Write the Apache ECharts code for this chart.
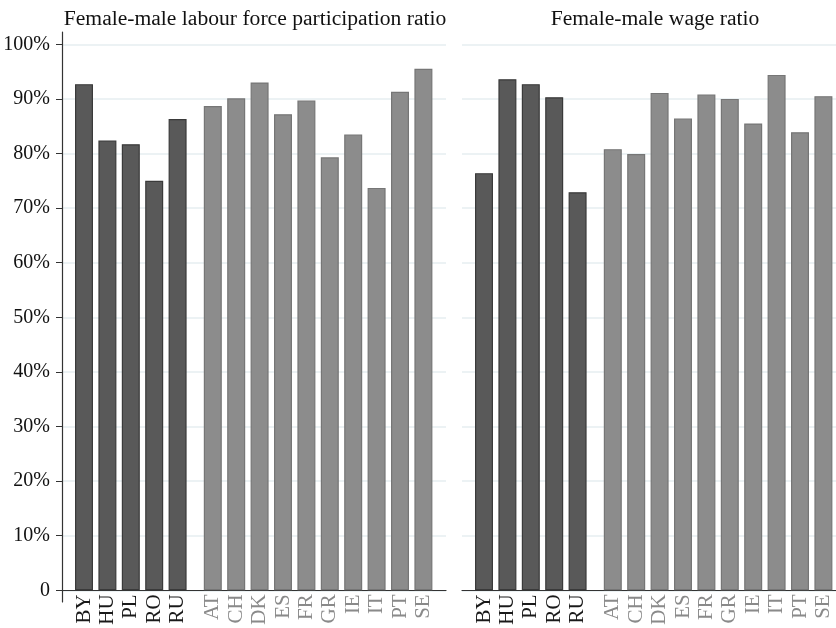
<!DOCTYPE html>
<html>
<head>
<meta charset="utf-8">
<script src="https://cdn.jsdelivr.net/npm/echarts@6/dist/echarts.min.js"></script>
<style>html,body{margin:0;padding:0;background:#fff}#c{width:836px;height:628px}</style>
</head>
<body>
<div id="c"></div>
<script>
var eastCats = ['BY', 'HU', 'PL', 'RO', 'RU'];
var westCats = ['AT', 'CH', 'DK', 'ES', 'FR', 'GR', 'IE', 'IT', 'PT', 'SE'];
var lfpEast = [0.927, 0.824, 0.817, 0.750, 0.863];
var lfpWest = [0.887, 0.901, 0.930, 0.872, 0.897, 0.793, 0.835, 0.737, 0.913, 0.955];
var wageEast = [0.764, 0.936, 0.927, 0.903, 0.729];
var wageWest = [0.808, 0.799, 0.911, 0.864, 0.908, 0.900, 0.855, 0.944, 0.839, 0.905];
var titles = ['Female-male labour force participation ratio', 'Female-male wage ratio'];
var yTicks = [0, 0.1, 0.2, 0.3, 0.4, 0.5, 0.6, 0.7, 0.8, 0.9, 1.0];

var FONT = 'Liberation Serif';
var TOP = 44.3, H = 546;
var grids = [], xAxes = [], yAxes = [], series = [], titleArr = [];

function addPanel(offset, showY, east, west, title) {
  var gi = grids.length;
  grids.push({left: 62 + offset, top: TOP, width: 384, height: H});
  xAxes.push({gridIndex: gi, type: 'category', data: [''], axisTick: {show: false}, axisLabel: {show: false},
    axisLine: {show: true, lineStyle: {color: '#333', width: 1.2}}, splitLine: {show: false}});
  yAxes.push({gridIndex: gi, type: 'value', min: yTicks[0], max: yTicks[yTicks.length - 1], interval: 0.1,
    axisLine: {show: false}, axisTick: {show: showY, length: 6, lineStyle: {color: '#333'}},
    axisLabel: {show: showY, margin: 12, fontFamily: FONT, fontSize: 20, color: '#111',
      formatter: function (v) { return v === 0 ? '0' : Math.round(v * 100) + '%'; }},
    splitLine: {show: true, lineStyle: {color: '#e6eef1', width: 1.5}}});
  if (showY) {
    var ai = grids.length;
    grids.push({left: 62 + offset, top: 32, width: 384, height: 570});
    xAxes.push({gridIndex: ai, type: 'category', data: [''], show: false});
    yAxes.push({gridIndex: ai, type: 'value', min: 0, max: 1, axisLine: {show: true, lineStyle: {color: '#333', width: 1.2}},
      axisTick: {show: false}, axisLabel: {show: false}, splitLine: {show: false}});
  }
  var groups = [
    {cats: eastCats, vals: east, left: 72.3, w: 117, fill: '#595959', border: '#3a3a3a', lab: '#1a1a1a'},
    {cats: westCats, vals: west, left: 201.1, w: 234, fill: '#8c8c8c', border: '#767676', lab: '#8a8a8a'}
  ];
  groups.forEach(function (g) {
    var bi = grids.length;
    grids.push({left: g.left + offset, top: TOP, width: g.w, height: H});
    xAxes.push({gridIndex: bi, type: 'category', data: g.cats, axisLine: {show: false}, axisTick: {show: false},
      axisLabel: {interval: 0, rotate: 90, margin: 4, fontFamily: FONT, fontSize: 21, color: g.lab}});
    yAxes.push({gridIndex: bi, type: 'value', min: 0, max: 1, show: false});
    series.push({type: 'bar', xAxisIndex: bi, yAxisIndex: bi, data: g.vals, barWidth: 18,
      itemStyle: {color: g.fill, borderColor: g.border, borderWidth: 1.2}, silent: true});
  });
  titleArr.push({text: title, left: 62 + offset + 188, top: 3, textAlign: 'center',
    textStyle: {fontFamily: FONT, fontSize: 21.6, fontWeight: 'normal', color: '#111'}});
}

addPanel(0, true, lfpEast, lfpWest, titles[0]);
addPanel(400, false, wageEast, wageWest, titles[1]);

var chart = echarts.init(document.getElementById('c'), null, {renderer: 'canvas'});
chart.setOption({
  animation: false,
  backgroundColor: '#fff',
  title: titleArr,
  grid: grids,
  xAxis: xAxes,
  yAxis: yAxes,
  series: series
});
</script>
</body>
</html>
